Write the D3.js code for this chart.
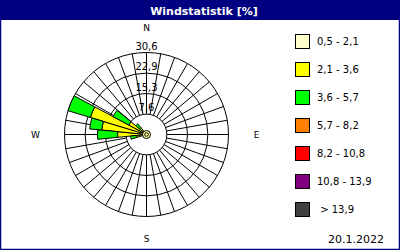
<!DOCTYPE html>
<html>
<head>
<meta charset="utf-8">
<script src="https://cdn.jsdelivr.net/npm/d3@7"></script>
<style>
  body { margin: 0; background: #fff; }
  svg { display: block; font-family: "DejaVu Sans", Tahoma, sans-serif; }
</style>
</head>
<body>
<script>
'use strict';

const width = 400;
const height = 250;
const cx = 146.5;
const cy = 134.5;
const maxRadius = 82;

// wind directions (compass degrees, 32-point rose)
const directions = [258.75, 270, 281.25, 292.5, 303.75, 315];
// frequency [%] per speed class for each direction
const class1 = [1.0, 1.5, 1.5, 2.0, 1.5, 1.0];   // 0,5 - 2,1
const class2 = [2.7, 9.3, 15.3, 19.9, 6.0, 2.0]; // 2,1 - 3,6
const class3 = [2.3, 7.5, 4.5, 8.7, 6.7, 2.2];   // 3,6 - 5,7

const ringValues = [7.6, 15.3, 22.9, 30.6];
const ringLabels = ['7,6', '15,3', '22,9', '30,6'];

const legendLabels = ['0,5 - 2,1', '2,1 - 3,6', '3,6 - 5,7', '5,7 - 8,2', '8,2 - 10,8', '10,8 - 13,9', ' > 13,9'];
const legendColors = ['#ffffcc', '#ffff00', '#00ff00', '#ff8000', '#ff0000', '#800080', '#404040'];

const compass = ['N', 'E', 'S', 'W'];
const compassAngles = [0, 90, 180, 270];

const svg = d3.select('body').append('svg').attr('width', width).attr('height', height);

// frame and title bar
svg.append('rect').attr('x', 0.5).attr('y', 0.5).attr('width', width - 1).attr('height', height - 1)
    .attr('fill', '#fff').attr('stroke', '#000080').attr('stroke-width', 1.5);
svg.append('rect').attr('x', 0).attr('y', 0).attr('width', width).attr('height', 20).attr('fill', '#000080');
svg.append('text').attr('x', 204).attr('y', 14.5).attr('text-anchor', 'middle')
    .attr('fill', '#fff').style('font-size', '11px').style('font-weight', 'bold')
    .text('Windstatistik [%]');

const rScale = d3.scaleLinear().domain([0, 30.6]).range([0, maxRadius]);
const toRad = d => d * Math.PI / 180;

const g = svg.append('g').attr('transform', 'translate(' + cx + ',' + cy + ')');

// grid: rings
g.append('g').selectAll('circle')
    .data(ringValues)
    .join('circle')
    .attr('r', d => rScale(d))
    .attr('fill', 'none')
    .attr('stroke', '#000')
    .attr('stroke-width', 1);

// grid: spokes every 10 degrees, from the first ring outward
const spokes = d3.range(0, 360, 10);
g.append('g').selectAll('line')
    .data(spokes)
    .join('line')
    .attr('x1', d => rScale(ringValues[0]) * Math.sin(toRad(d)))
    .attr('y1', d => -rScale(ringValues[0]) * Math.cos(toRad(d)))
    .attr('x2', d => rScale(30.6) * Math.sin(toRad(d)))
    .attr('y2', d => -rScale(30.6) * Math.cos(toRad(d)))
    .attr('stroke', '#000')
    .attr('stroke-width', 1);

// stacked wedges
const table = directions.map((dir, i) => ({ dir: dir, c1: class1[i], c2: class2[i], c3: class3[i] }));
const stacked = d3.stack().keys(['c1', 'c2', 'c3'])(table);
const arc = d3.arc();
const halfWidth = 11.25 / 2;

stacked.forEach((layer, k) => {
    g.append('g').selectAll('path')
        .data(layer)
        .join('path')
        .attr('d', d => arc({
            innerRadius: rScale(d[0]),
            outerRadius: rScale(d[1]),
            startAngle: toRad(d.data.dir - halfWidth),
            endAngle: toRad(d.data.dir + halfWidth)
        }))
        .attr('fill', legendColors[k])
        .attr('stroke', '#000')
        .attr('stroke-width', 1);
});

// calm symbol at centre
g.append('circle').attr('r', 4).attr('fill', '#ffff99').attr('stroke', '#000');
g.append('circle').attr('r', 1.8).attr('fill', 'none').attr('stroke', '#000');

// ring labels along the north axis
g.append('g').selectAll('text')
    .data(ringValues)
    .join('text')
    .attr('x', 0)
    .attr('y', (d, i) => -rScale(d) - 3)
    .attr('text-anchor', 'middle')
    .style('font-size', '10px')
    .text((d, i) => ringLabels[i]);

// compass letters
const letterRadius = [107, 110, 104, 111];
g.append('g').selectAll('text')
    .data(compass)
    .join('text')
    .attr('x', (d, i) => letterRadius[i] * Math.sin(toRad(compassAngles[i])))
    .attr('y', (d, i) => -letterRadius[i] * Math.cos(toRad(compassAngles[i])) + 3.5)
    .attr('text-anchor', 'middle')
    .style('font-size', '9px')
    .text(d => d);

// legend
const legendY = d3.scalePoint().domain(d3.range(legendLabels.length)).range([34, 202]);
const legend = svg.append('g');
legend.selectAll('rect')
    .data(legendLabels)
    .join('rect')
    .attr('x', 295.5)
    .attr('y', (d, i) => legendY(i) + 0.5)
    .attr('width', 14)
    .attr('height', 14)
    .attr('fill', (d, i) => legendColors[i])
    .attr('stroke', '#000');
legend.selectAll('text')
    .data(legendLabels)
    .join('text')
    .attr('x', 317)
    .attr('y', (d, i) => legendY(i) + 11)
    .style('font-size', '10px')
    .style('white-space', 'pre')
    .text(d => d);

svg.append('text').attr('x', 384).attr('y', 243).attr('text-anchor', 'end')
    .style('font-size', '11px').text('20.1.2022');
</script>
</body>
</html>
